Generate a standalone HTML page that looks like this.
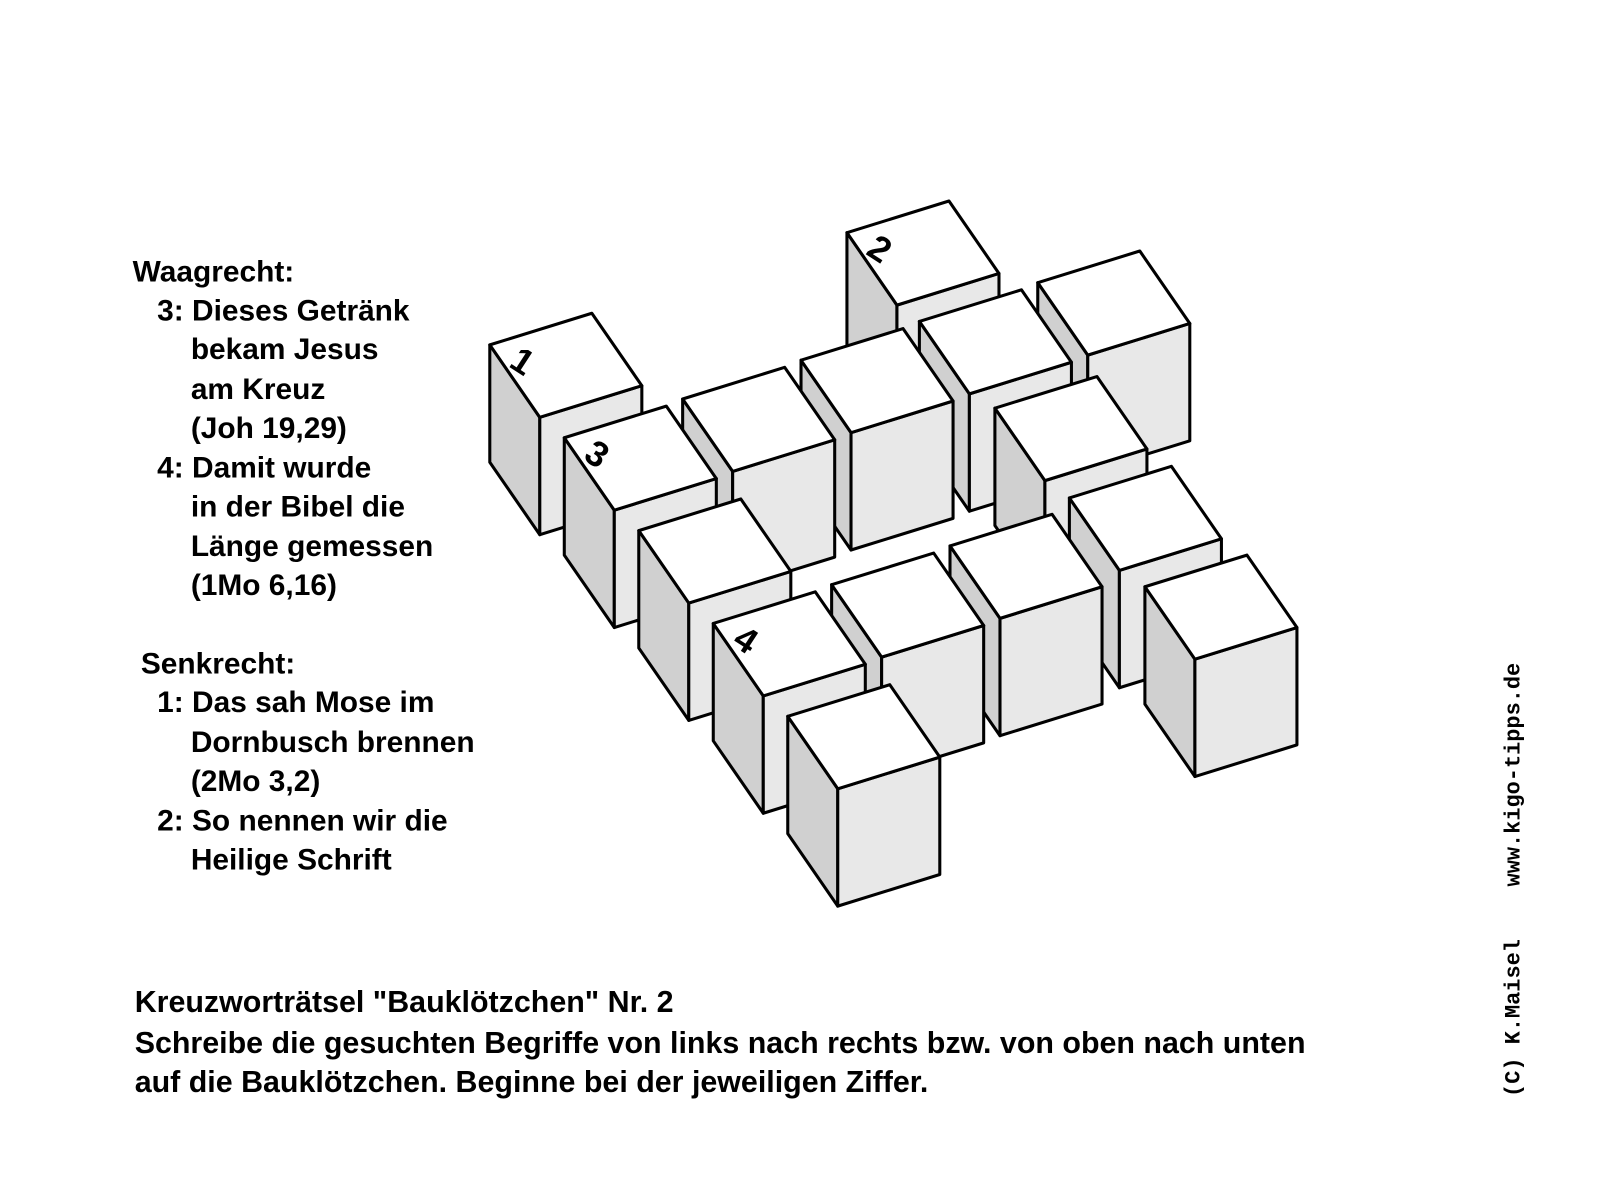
<!DOCTYPE html>
<html><head><meta charset="utf-8"><style>
html,body{margin:0;padding:0;background:#fff}
svg{display:block}
text{font-family:"Liberation Sans",Arial,sans-serif;font-weight:bold;fill:#000}
</style></head><body>
<svg id="s" xmlns="http://www.w3.org/2000/svg" width="1600" height="1200" viewBox="0 0 1568 1176">
<g font-size="29.3">
<text x="130" y="276">Waagrecht:</text>
<text x="154" y="314">3: Dieses Getränk</text>
<text x="187" y="352">bekam Jesus</text>
<text x="187" y="391">am Kreuz</text>
<text x="187" y="429">(Joh 19,29)</text>
<text x="154" y="468">4: Damit wurde</text>
<text x="187" y="506">in der Bibel die</text>
<text x="187" y="545">Länge gemessen</text>
<text x="187" y="583">(1Mo 6,16)</text>
<text x="138" y="660">Senkrecht:</text>
<text x="154" y="698">1: Das sah Mose im</text>
<text x="187" y="737">Dornbusch brennen</text>
<text x="187" y="775">(2Mo 3,2)</text>
<text x="154" y="814">2: So nennen wir die</text>
<text x="187" y="852">Heilige Schrift</text>
</g>
<g font-size="29.8">
<text x="132" y="992">Kreuzworträtsel "Bauklötzchen" Nr. 2</text>
<text x="132" y="1032">Schreibe die gesuchten Begriffe von links nach rechts bzw. von oben nach unten</text>
<text x="132" y="1070">auf die Bauklötzchen. Beginne bei der jeweiligen Ziffer.</text>
</g>
<text transform="translate(1489,1075) rotate(-90)" style="font-family:'Liberation Mono',monospace;font-weight:bold;white-space:pre" xml:space="preserve" font-size="21.5">(C) K.Maisel    www.kigo-tipps.de</text>
<g id="cubes"></g>
</svg>
<script>
var O=[480,338],W=[116,-38],D=[73,91];
var cells=[[0,0,'1'],[3,0,'2'],[0,1,'3'],[1,1],[2,1],[3,1],[4,1],[0,2],[3,2],[0,3,'4'],[1,3],[2,3],[3,3],[0,4],[3,4]];
var over={'3,3':[1048,488],'3,4':[1122,575],'3,2':[975,400],'3,0':[830,228]};
cells.sort(function(p,q){return p[1]-q[1]||q[0]-p[0];});
var a=[100,-31],b=[49,71],h=115,out='';
function pt(p){return p[0]+','+p[1];}
function add(p,v){return [p[0]+v[0],p[1]+v[1]];}
cells.forEach(function(c){
 var k=c[0]+','+c[1];
 var P=over[k]||[O[0]+c[0]*W[0]+c[1]*D[0],O[1]+c[0]*W[1]+c[1]*D[1]];
 var Pa=add(P,a),Pb=add(P,b),Pab=add(Pa,b),H=[0,h];
 var st=' stroke="#000" stroke-width="3" stroke-linejoin="round"';
 out+='<polygon points="'+[P,Pb,add(Pb,H),add(P,H)].map(pt).join(' ')+'" fill="#d0d0d0"'+st+'/>';
 out+='<polygon points="'+[Pb,Pab,add(Pab,H),add(Pb,H)].map(pt).join(' ')+'" fill="#e8e8e8"'+st+'/>';
 out+='<polygon points="'+[P,Pa,Pab,Pb].map(pt).join(' ')+'" fill="#fff"'+st+'/>';
 if(c[2]){
  out+='<text font-size="35" text-anchor="middle" dominant-baseline="central" transform="translate('+(P[0]+32)+','+(P[1]+16)+') rotate(33)">'+c[2]+'</text>';
 }
});
document.getElementById('cubes').innerHTML=out;
</script>
</body></html>
